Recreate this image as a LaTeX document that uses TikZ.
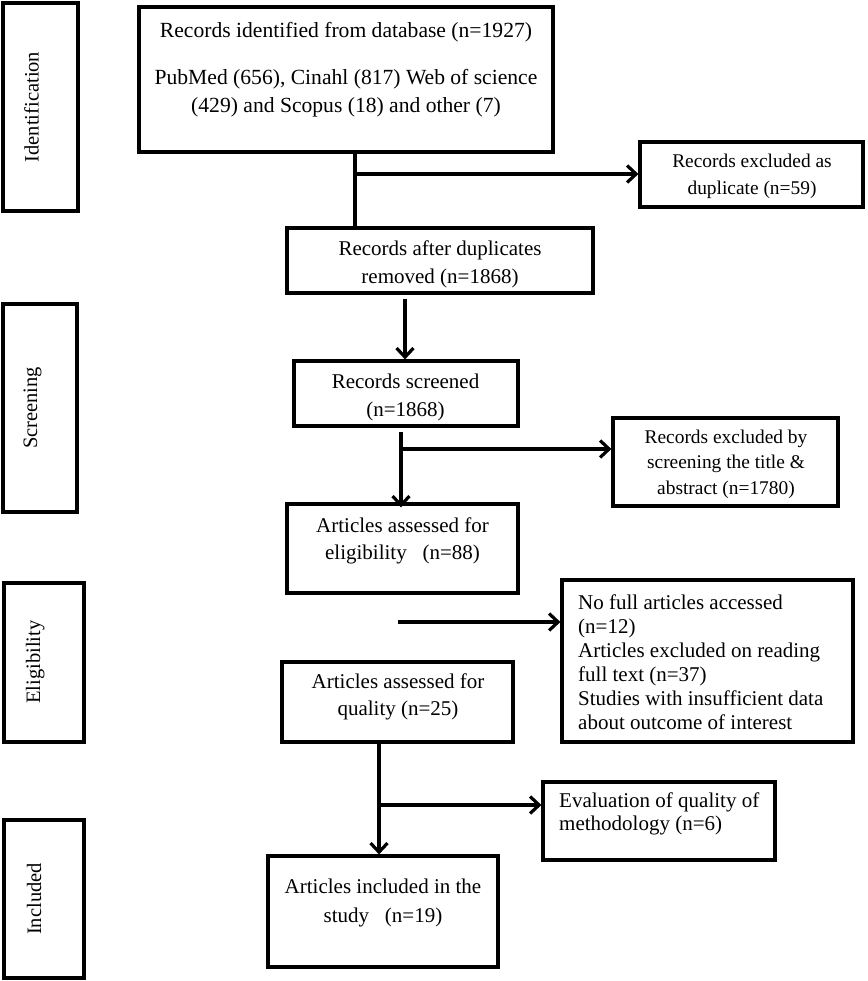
\documentclass[tikz,border=0pt]{standalone}
\usepackage{fontspec}
\setmainfont{Liberation Serif}
\usetikzlibrary{arrows.meta,fit}
\begin{document}
\begin{tikzpicture}[x=1pt,y=-1pt,
  boxst/.style={draw, line width=3.2pt, inner sep=0pt},
  txt/.style={inner sep=0pt, align=center, font=\fontsize{21}{28}\selectfont},
  ltxt/.style={inner sep=0pt, align=left, anchor=west, font=\fontsize{21}{24}\selectfont},
  side/.style={inner sep=0pt, rotate=90, anchor=base, font=\fontsize{20.5}{24}\selectfont},
  conn/.style={line width=3.2pt},
  arr/.style={conn, -{Straight Barb[length=9pt,width=17pt]}},
]
\fill[white] (0,0) rectangle (867,981);
\useasboundingbox (0,0) rectangle (867,981);

% side boxes
\node[boxst, fit={(3,3) (78,211)}] (sid) {};
\node[boxst, fit={(3,304) (77,512)}] (sscr) {};
\node[boxst, fit={(4,583) (84,742)}] (selg) {};
\node[boxst, fit={(4,820) (84,978)}] (sinc) {};
\node[side] (tid) at (38.5,107) {Identification};
\node[side] (tscr) at (37,408) {Screening};
\node[side] (telg) at (40,662) {Eligibility};
\node[side] (tinc) at (41,899) {Included};

% main boxes
\node[boxst, fit={(139,7) (553,152)}] (top) {};
\node[boxst, fit={(640,142) (863,207)}] (exdup) {};
\node[boxst, fit={(287,228) (593,293)}] (dup) {};
\node[boxst, fit={(294,361) (518,426)}] (screened) {};
\node[boxst, fit={(613,418) (838,506)}] (exscreen) {};
\node[boxst, fit={(287,504) (518,593)}] (eligb) {};
\node[boxst, fit={(562,580) (853,742)}] (nofull) {};
\node[boxst, fit={(282,662) (513,742)}] (quality) {};
\node[boxst, fit={(543,782) (775,860)}] (eval) {};
\node[boxst, fit={(268,856) (498,967)}] (incl) {};

% texts
\node[txt, font=\fontsize{21.6}{28}\selectfont] (toptext) at (346,70) {Records identified from database (n=1927)\\[19pt]PubMed (656), Cinahl (817) Web of science\\(429) and Scopus (18) and other (7)};
\node[txt, font=\fontsize{19.4}{27}\selectfont] (exduptext) at (752,176.5) {Records excluded as\\duplicate (n=59)};
\begin{scope}
\clip (287,228) rectangle (593,287);
\node[txt] (duptext) at (440,264) {Records after duplicates\\removed (n=1868)};
\end{scope}
\node[txt] (scrtext) at (405.5,397) {Records screened\\(n=1868)};
\node[txt, font=\fontsize{19.4}{25.5}\selectfont] (exscrtext) at (726,464) {Records excluded by\\screening the title \&\\abstract (n=1780)};
\node[txt, font=\fontsize{21}{27}\selectfont] (eligtext) at (402.5,540.5) {Articles assessed for\\eligibility\ \ \ (n=88)};
\node[ltxt] (nofulltext) at (578,662) {No full articles accessed\\(n=12)\\Articles excluded on reading\\full text (n=37)\\Studies with insufficient data\\about outcome of interest};
\node[txt, font=\fontsize{21}{27}\selectfont] (qualtext) at (398,696.5) {Articles assessed for\\quality (n=25)};
\node[ltxt, font=\fontsize{21}{22.5}\selectfont] (evaltext) at (559,814) {Evaluation of quality of\\methodology (n=6)};
\node[txt, font=\fontsize{21}{29}\selectfont] (incltext) at (383,902.5) {Articles included in the\\study\ \ \ (n=19)};

% connectors
\coordinate (j1) at (355,174);
\draw[conn] (top.south -| j1) -- (dup.north -| j1);
\draw[arr] (j1) -- (exdup.west |- j1);

\coordinate (a2) at (405,298);
\draw[arr, shorten <=4pt] (dup.south -| a2) -- (screened.north -| a2);

\coordinate (a3) at (401,449);
\draw[arr, shorten <=4pt, shorten >=-5pt] (screened.south -| a3) -- (eligb.north -| a3);
\draw[arr] (a3) -- (exscreen.west |- a3);

\coordinate (a4) at (398,622);
\draw[arr] (a4) -- (nofull.west |- a4);

\coordinate (a5) at (379,805);
\draw[arr] (quality.south -| a5) -- (incl.north -| a5);
\draw[arr] (a5) -- (eval.west |- a5);
\end{tikzpicture}
\end{document}
